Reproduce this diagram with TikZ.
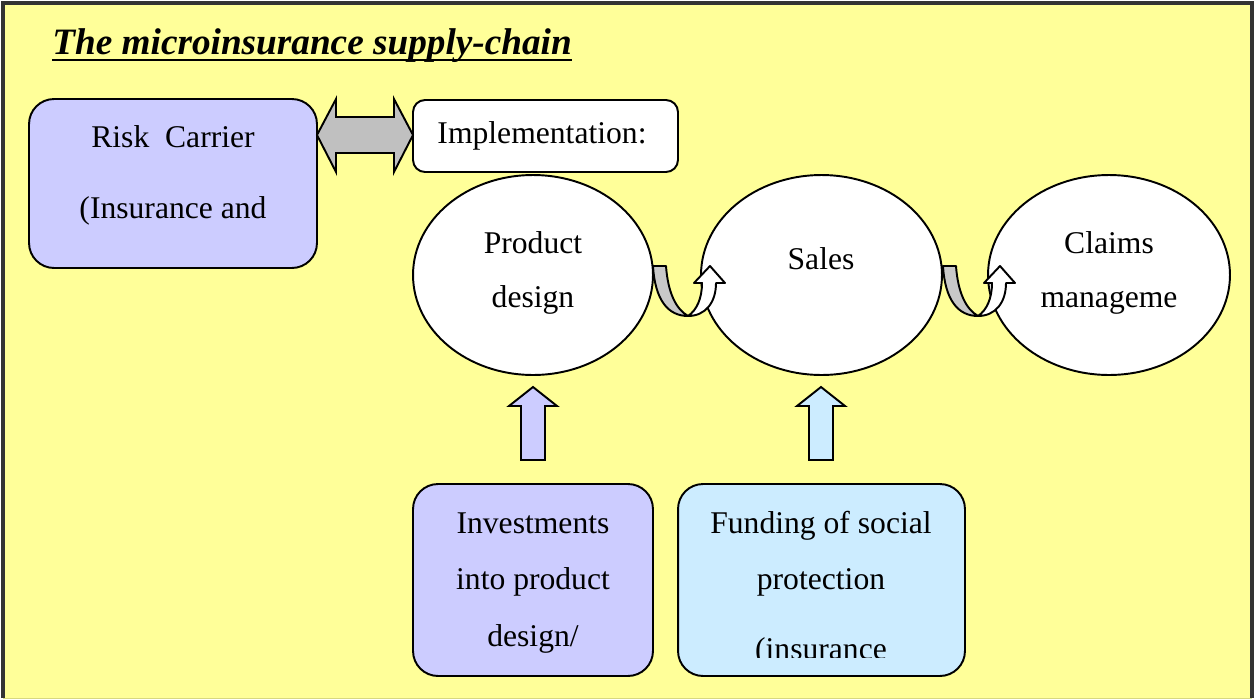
\documentclass[tikz,border=0pt]{standalone}
\usepackage{fontspec}
\setmainfont{Liberation Serif}
\usetikzlibrary{shapes.geometric,calc}
\definecolor{bgyellow}{HTML}{FFFF99}
\definecolor{lav}{HTML}{CCCCFF}
\definecolor{lblue}{HTML}{CCECFF}
\definecolor{arrgray}{HTML}{C0C0C0}
\definecolor{ugray}{HTML}{C8C8C8}
\definecolor{framec}{HTML}{333333}
\definecolor{framelow}{HTML}{D8D880}
\tikzset{
  box/.style={draw, line width=1.1pt, inner sep=0pt, outer sep=0pt},
  txt/.style={anchor=base, inner sep=0pt, font=\fontsize{18}{20}\selectfont},
  oval/.style={draw, ellipse, line width=1.1pt, fill=white, inner sep=0pt, outer sep=0pt},
  blockarrow/.style={draw, line width=1.1pt, line join=miter},
  turnarrow/.style={draw, line width=1.1pt, line join=round},
}
\newcommand\uturnarrow[1]{%
  \begin{scope}[shift={(#1,0)}]
    \path[turnarrow, fill=ugray] (653,266) -- (666,266)
      .. controls (668,293) and (676,309) .. (688,316)
      .. controls (668,316) and (655,300) .. (653,266) -- cycle;
    \path[turnarrow, fill=white] (688,316)
      .. controls (697,310) and (702,298) .. (702,283)
      -- (694,283) -- (710,266) -- (725,283) -- (716,283)
      .. controls (716,303) and (705,316) .. (688,316) -- cycle;
  \end{scope}}
\begin{document}
\begin{tikzpicture}[x=0.02cm, y=-0.02cm]
  \useasboundingbox (0,0) rectangle (1255,700);
  % background frame
  \fill[bgyellow] (3,3) rectangle (1252,698);
  \draw[framec, line width=1.8pt] (3,698) -- (3,3) -- (1252,3) -- (1252,698);
  \draw[framelow, line width=1pt] (3,698.5) -- (1252,698.5);

  % title
  \node[anchor=base west, inner sep=0pt, font=\fontsize{21.2}{24}\selectfont\bfseries\itshape] (title) at (52,54) {The microinsurance supply-chain};
  \draw[line width=1.7pt] ($(title.base west)+(0,6)$) -- ($(title.base east)+(0,6)$);

  % boxes
  \node[box, fill=lav, rounded corners=0.5cm, minimum width=5.76cm, minimum height=3.38cm] (risk) at (173,183.5) {};
  \node[box, fill=white, rounded corners=0.24cm, minimum width=5.3cm, minimum height=1.44cm] (impl) at (545.5,136) {};
  \node[box, fill=lav, rounded corners=0.5cm, minimum width=4.8cm, minimum height=3.84cm] (inv) at (533,580) {};
  \node[box, fill=lblue, rounded corners=0.5cm, minimum width=5.74cm, minimum height=3.84cm] (fund) at (821.5,580) {};

  % ellipses
  \node[oval, minimum width=4.8cm, minimum height=4cm] (pd) at (533,275) {};
  \node[oval, minimum width=4.82cm, minimum height=4cm] (sales) at (821.5,275) {};
  \node[oval, minimum width=4.84cm, minimum height=4cm] (claims) at (1109,275) {};

  % double block arrow between risk carrier and implementation
  \path[blockarrow, fill=arrgray] (317,135) -- (336,99) -- (336,117) -- (394,117) -- (394,99)
    -- (413,135) -- (394,172) -- (394,153) -- (336,153) -- (336,172) -- cycle;

  % up block arrows
  \path[blockarrow, fill=lav] (533,387) -- (557,406) -- (545,406) -- (545,460) -- (521,460)
    -- (521,406) -- (509,406) -- cycle;
  \path[blockarrow, fill=lblue] (821,387) -- (845,406) -- (833,406) -- (833,460) -- (809,460)
    -- (809,406) -- (797,406) -- cycle;

  % u-turn arrows between ellipses
  \uturnarrow{0}
  \uturnarrow{290}

  % texts
  \node[txt] (risk1) at (173,147) {Risk\ \ Carrier};
  \node[txt] (risk2) at (173,218) {(Insurance and};
  \node[txt] (impl1) at (542,143) {Implementation:};
  \node[txt] (pd1) at (533,253) {Product};
  \node[txt] (pd2) at (533,307) {design};
  \node[txt] (sales1) at (821,269) {Sales};
  \node[txt] (cl1) at (1109,253) {Claims};
  \node[txt] (cl2) at (1109,307) {manageme};
  \node[txt] (inv1) at (533,533) {Investments};
  \node[txt] (inv2) at (533,589) {into product};
  \node[txt] (inv3) at (533,646) {design/};
  \node[txt] (fund1) at (821,533) {Funding of social};
  \node[txt] (fund2) at (821,589) {protection};
  \begin{scope}
    \clip (678,484) rectangle (965,657);
    \node[txt] (fund3) at (821,659) {(insurance};
  \end{scope}
\end{tikzpicture}
\end{document}
